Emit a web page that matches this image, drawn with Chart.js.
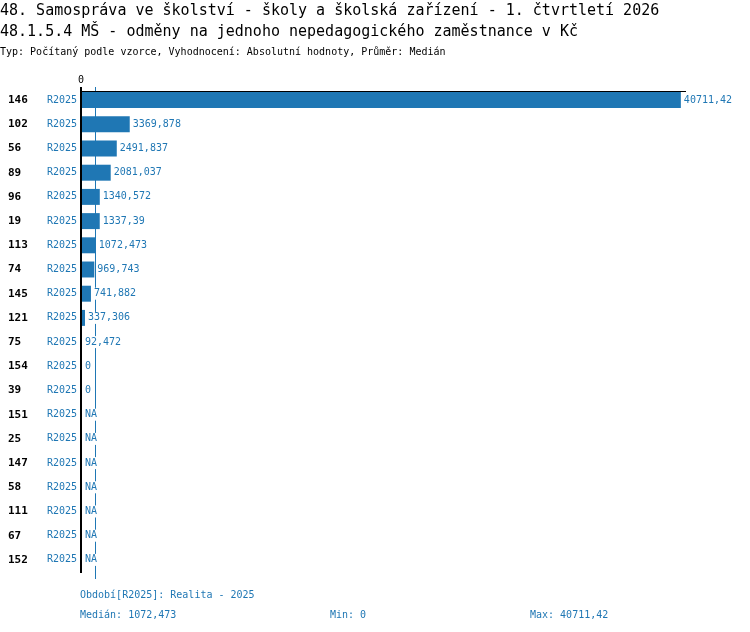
<!DOCTYPE html>
<html>
<head>
<meta charset="utf-8">
<script src="https://cdn.jsdelivr.net/npm/chart.js@4/dist/chart.umd.min.js"></script>
<style>
body { margin: 0; background: #fff; font-family: "DejaVu Sans Mono", monospace; }
#wrap { position: relative; width: 750px; height: 632px; }
#c { position: absolute; left: 0; top: 0; }
.t { position: absolute; white-space: pre; line-height: 1; }
.blue { color: #1f77b4; font-size: 10px; }
</style>
</head>
<body>
<div id="wrap">
  <canvas id="c" width="750" height="632"></canvas>
  <div class="t" style="left:0;top:3px;font-size:15px">48. Samospráva ve školství - školy a školská zařízení - 1. čtvrtletí 2026</div>
  <div class="t" style="left:0;top:24px;font-size:15px">48.1.5.4 MŠ - odměny na jednoho nepedagogického zaměstnance v Kč</div>
  <div class="t" style="left:0;top:47px;font-size:10px">Typ: Počítaný podle vzorce, Vyhodnocení: Absolutní hodnoty, Průměr: Medián</div>
  <div class="t blue" style="left:80px;top:590px">Období[R2025]: Realita - 2025</div>
  <div class="t blue" id="fMed" style="left:80px;top:610px"></div>
  <div class="t blue" id="fMin" style="left:330px;top:610px"></div>
  <div class="t blue" id="fMax" style="left:530px;top:610px"></div>
</div>
<script>
// chart data
var categories = ['146', '102', '56', '89', '96', '19', '113', '74', '145', '121',
                  '75', '154', '39', '151', '25', '147', '58', '111', '67', '152'];
var values = [40711.42, 3369.878, 2491.837, 2081.037, 1340.572, 1337.39, 1072.473, 969.743, 741.882, 337.306,
              92.472, 0, 0, null, null, null, null, null, null, null];
var seriesLabel = 'R2025';
var median = 1072.473;
var minValue = 0;
var maxValue = 40711.42;
var xMax = 41060;

var blue = '#1f77b4';

// Czech style number: decimal comma
function fmt(v) {
    if (v === null) return 'NA';
    return String(v).replace('.', ',');
}

document.getElementById('fMed').textContent = 'Medián: ' + fmt(median);
document.getElementById('fMin').textContent = 'Min: ' + fmt(minValue);
document.getElementById('fMax').textContent = 'Max: ' + fmt(maxValue);

var decor = {
    id: 'decor',
    beforeDatasetsDraw: function (chart) {
        var ctx = chart.ctx, xs = chart.scales.x;
        // median line
        ctx.save();
        ctx.fillStyle = blue;
        ctx.fillRect(Math.floor(xs.getPixelForValue(median)), 87, 1, 492);
        ctx.restore();
    },
    afterDatasetsDraw: function (chart) {
        var ctx = chart.ctx, xs = chart.scales.x, ys = chart.scales.y;
        var area = chart.chartArea;
        var x0 = xs.getPixelForValue(0);
        ctx.save();
        // axis lines
        ctx.fillStyle = '#000';
        ctx.fillRect(x0, 87, 2, area.bottom + 1 - 87);
        ctx.fillRect(x0, 91, area.right - x0, 1);
        // zero tick label
        ctx.font = '10px "DejaVu Sans Mono"';
        ctx.textAlign = 'center';
        ctx.textBaseline = 'middle';
        ctx.fillText('0', x0 + 1, 80);
        ctx.textAlign = 'left';
        categories.forEach(function (cat, i) {
            var y = ys.getPixelForValue(i);
            ctx.font = 'bold 11px "DejaVu Sans Mono"';
            ctx.fillStyle = '#000';
            ctx.fillText(cat, 8, y);
            ctx.font = '10px "DejaVu Sans Mono"';
            ctx.fillStyle = blue;
            ctx.fillText(seriesLabel, 47, y);
            var v = values[i];
            var end = v === null ? x0 : xs.getPixelForValue(v);
            var tx = Math.max(end, x0 + 2) + 3;
            var txt = fmt(v);
            var w = ctx.measureText(txt).width;
            ctx.fillStyle = '#fff';
            ctx.fillRect(tx - 1, y - 6, w + 2, 12);
            ctx.fillStyle = blue;
            ctx.fillText(txt, tx, y);
        });
        ctx.restore();
    }
};

new Chart(document.getElementById('c'), {
    type: 'bar',
    data: {
        labels: categories,
        datasets: [{
            label: seriesLabel,
            data: values,
            backgroundColor: blue,
            borderWidth: 0,
            barPercentage: 0.66,
            categoryPercentage: 1
        }]
    },
    options: {
        indexAxis: 'y',
        responsive: false,
        animation: false,
        devicePixelRatio: 1,
        layout: { padding: { left: 80, right: 64, top: 88, bottom: 60 } },
        scales: {
            x: { display: false, min: 0, max: xMax },
            y: { display: false }
        },
        plugins: { legend: { display: false }, tooltip: { enabled: false } }
    },
    plugins: [decor]
});
</script>
</body>
</html>
